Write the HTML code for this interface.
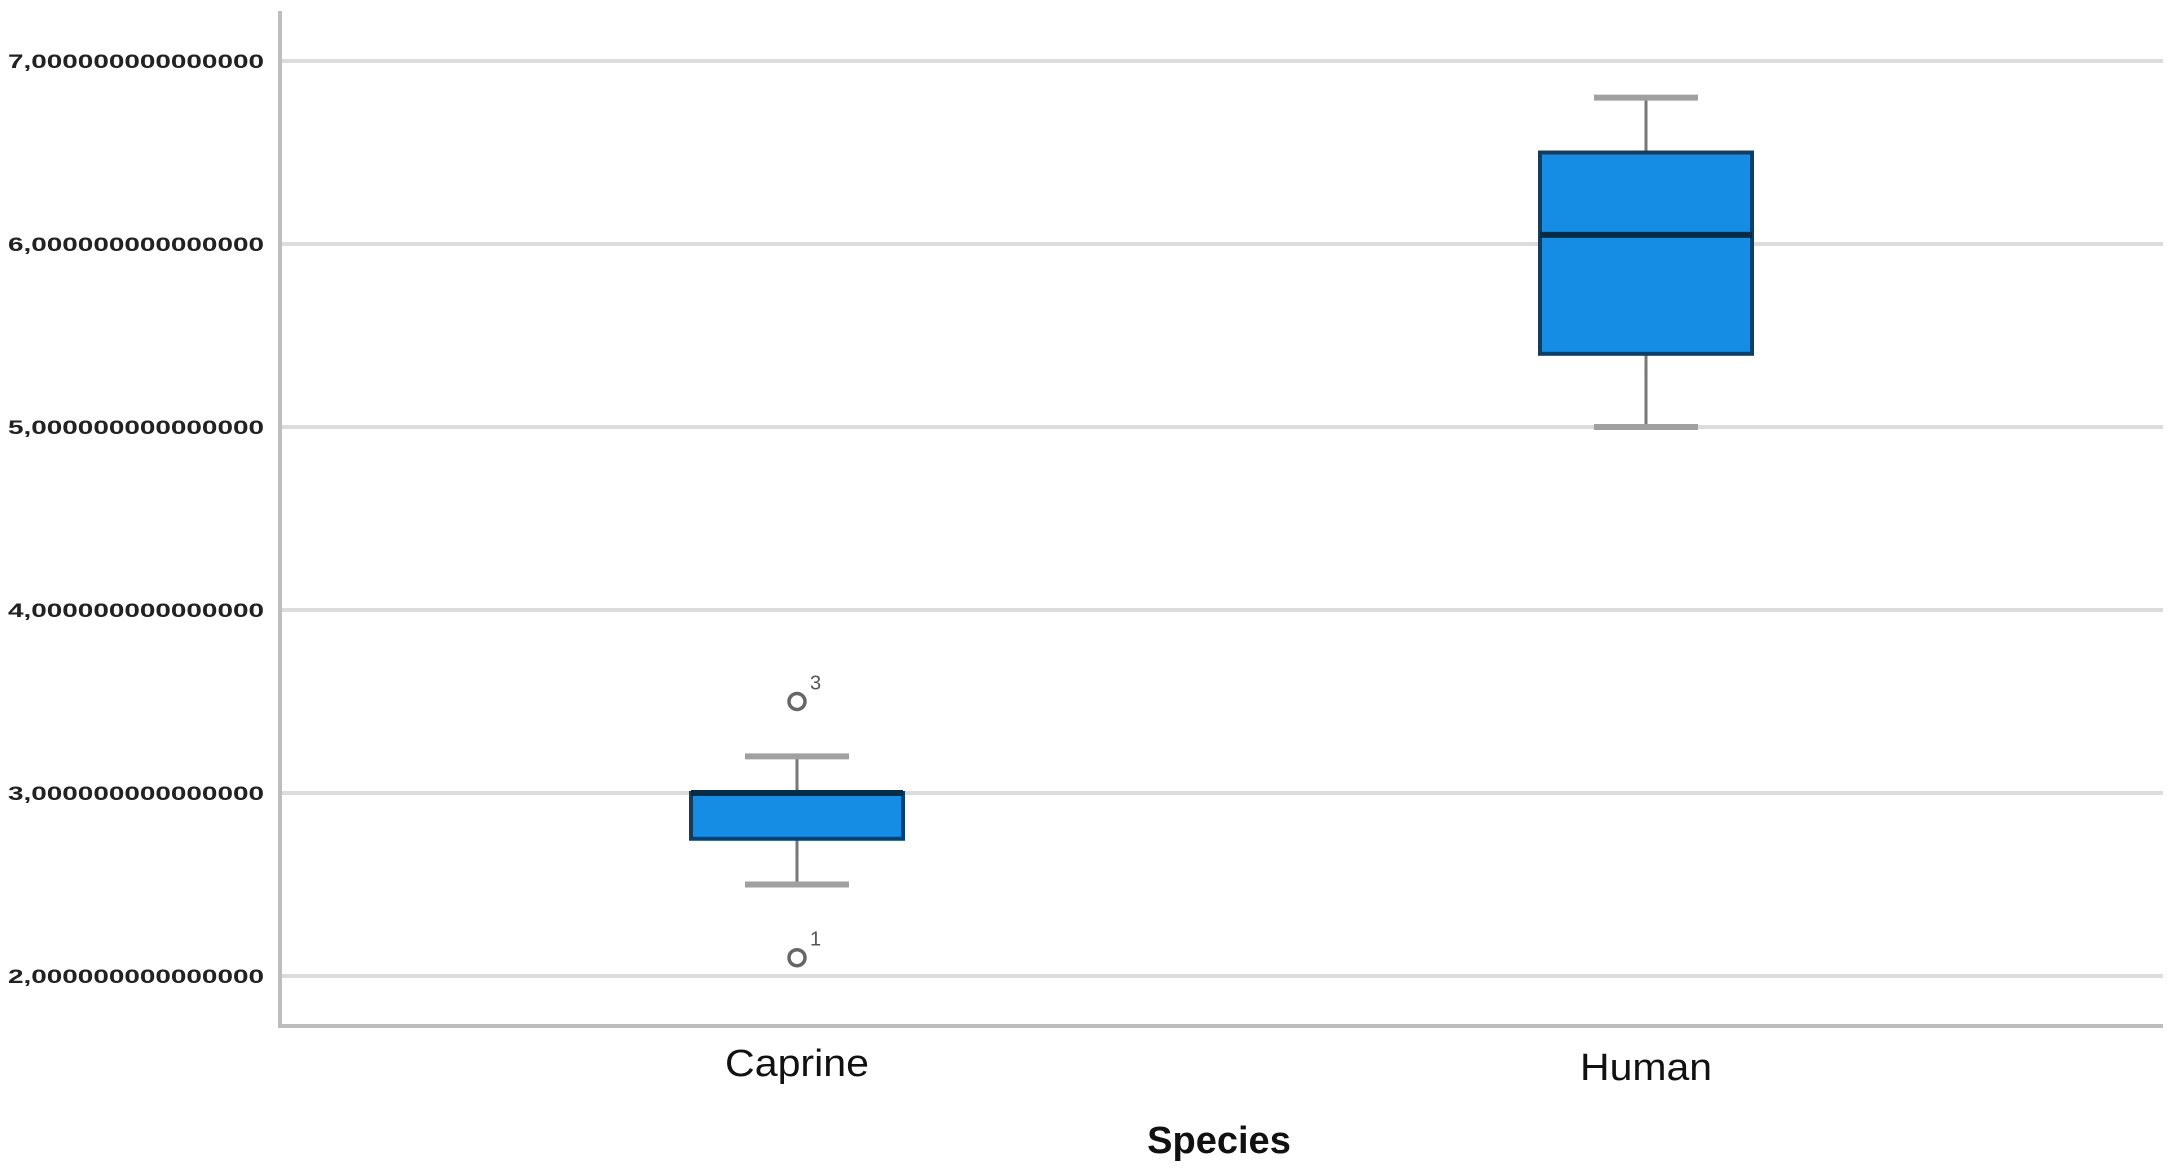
<!DOCTYPE html>
<html><head><meta charset="utf-8"><style>
html,body{margin:0;padding:0;background:#fff;width:2174px;height:1172px;overflow:hidden}
svg text{font-family:"Liberation Sans",sans-serif}
</style></head><body>
<svg id="chart" width="2174" height="1172" viewBox="0 0 2174 1172" xmlns="http://www.w3.org/2000/svg"></svg>
<script>
const categories = ["Caprine", "Human"];
const whiskerLow = [2.5, 5.0];
const q1 = [2.75, 5.4];
const median = [3.0, 6.05];
const q3 = [3.0, 6.5];
const whiskerHigh = [3.2, 6.8];
const outlierValues = [[3.5, 2.1], []];
const outlierLabels = [["3", "1"], []];
const yTicks = [2, 3, 4, 5, 6, 7];
const yTickLabels = ["2,000000000000000","3,000000000000000","4,000000000000000","5,000000000000000","6,000000000000000","7,000000000000000"];

const svg = document.getElementById('chart');
const NS = 'http://www.w3.org/2000/svg';
const plotL = 280, plotR = 2163, axisY = 1026;
function y(v){ return 976 - (v - 2) * 183; }
const catX = [797, 1646];
function x(i){ return catX[i]; }
function mk(tag, attrs, parent){ const e = document.createElementNS(NS, tag); for (const k in attrs) e.setAttribute(k, attrs[k]); (parent||svg).appendChild(e); return e; }

yTicks.forEach((t, i) => {
  const g = mk('line', {x1: plotL, x2: plotR, y1: y(t), y2: y(t), stroke: '#dcdcdc', 'stroke-width': 4});
  
  
  const tx = mk('text', {x: 8, y: y(t) + 7, 'font-size': 19, 'font-weight': 'bold', fill: '#222', textLength: 256, lengthAdjust: 'spacingAndGlyphs'});
  tx.textContent = yTickLabels[i];
  
  
});

const ya = mk('line', {x1: plotL, x2: plotL, y1: 11, y2: axisY + 2, stroke: '#bdbdbd', 'stroke-width': 4});


const xa = mk('line', {x1: plotL - 2, x2: plotR, y1: axisY, y2: axisY, stroke: '#bdbdbd', 'stroke-width': 4});



const boxW = 212, capW = 104;
categories.forEach((c, i) => {
  const cx = x(i);
  const g = mk('g', {});
  
  
  mk('line', {x1: cx, x2: cx, y1: y(whiskerHigh[i]), y2: y(q3[i]), stroke: '#777', 'stroke-width': 3}, g);
  mk('line', {x1: cx, x2: cx, y1: y(q1[i]), y2: y(whiskerLow[i]), stroke: '#777', 'stroke-width': 3}, g);
  mk('line', {x1: cx - capW/2, x2: cx + capW/2, y1: y(whiskerHigh[i]), y2: y(whiskerHigh[i]), stroke: '#a0a0a0', 'stroke-width': 6}, g);
  mk('line', {x1: cx - capW/2, x2: cx + capW/2, y1: y(whiskerLow[i]), y2: y(whiskerLow[i]), stroke: '#a0a0a0', 'stroke-width': 6}, g);
  mk('rect', {x: cx - boxW/2, y: y(q3[i]), width: boxW, height: y(q1[i]) - y(q3[i]), fill: '#168de5', stroke: '#0d3f66', 'stroke-width': 4}, g);
  mk('line', {x1: cx - boxW/2, x2: cx + boxW/2, y1: y(median[i]), y2: y(median[i]), stroke: '#062c48', 'stroke-width': 6}, g);
  outlierValues[i].forEach((v, j) => {
    const o = mk('circle', {cx: cx, cy: y(v), r: 8, fill: 'none', stroke: '#666', 'stroke-width': 3.5});
    
    
    const ol = mk('text', {x: cx + 13, y: y(v) - 12, 'font-size': 20, fill: '#555'});
    ol.textContent = outlierLabels[i][j];
    
    
  });
  const lbl = mk('text', {x: cx, y: 1076 + i*4, 'font-size': 38, 'text-anchor': 'middle', fill: '#111', textLength: i === 0 ? 144 : 132, lengthAdjust: 'spacingAndGlyphs'});
  lbl.textContent = c;
  
  
});

const title = mk('text', {x: 1219, y: 1153, 'font-size': 38, 'font-weight': 'bold', 'text-anchor': 'middle', fill: '#111'});
title.textContent = 'Species';


</script>
</body></html>
